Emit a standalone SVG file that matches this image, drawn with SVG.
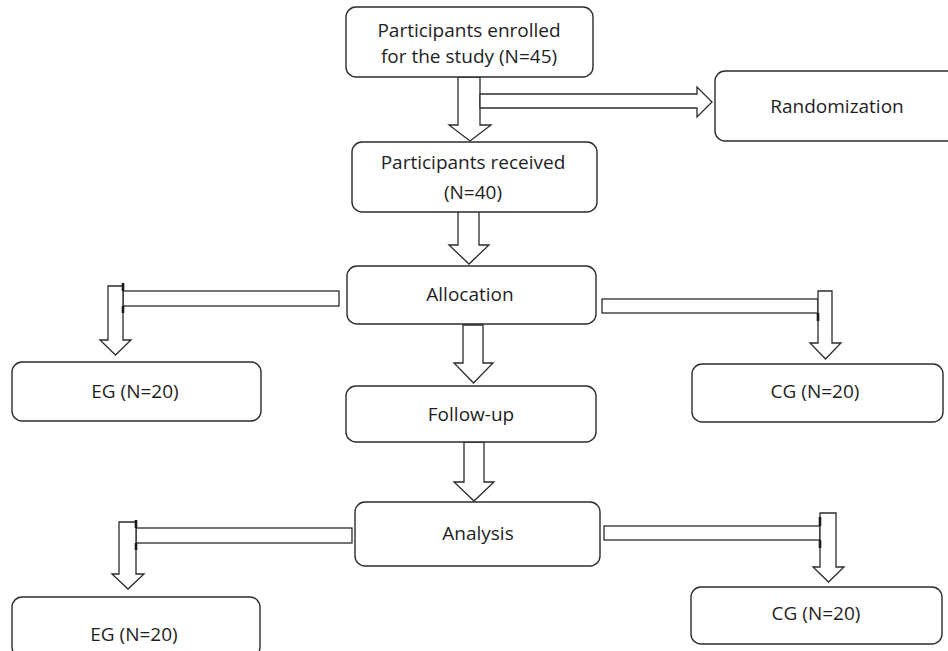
<svg xmlns="http://www.w3.org/2000/svg" width="948" height="651" viewBox="0 0 948 651">
  <style>
    .box { fill: #ffffff; stroke: #2b2b2b; stroke-width: 1.4; }
    .arr { fill: #ffffff; stroke: #2b2b2b; stroke-width: 1.3; stroke-linejoin: miter; }
    .tick { stroke: #1a1a1a; stroke-width: 2.6; }
    .lbl { font-family: "Open Sans", "Noto Sans", "Liberation Sans", sans-serif; font-size: 19px; fill: #1e1e1e; text-anchor: middle; }
  </style>
  <rect x="0" y="0" width="948" height="651" fill="#ffffff"/>

  <g id="connectors">
    <!-- enrolled -> received -->
    <polygon class="arr" points="458,77 480,77 480,125 491,125 470,141 449,125 458,125"/>
    <!-- enrolled -> randomization -->
    <polygon class="arr" points="480,94 697,94 697,87 712,102 697,117 697,108 480,108"/>
    <!-- received -> allocation -->
    <polygon class="arr" points="458,211 479,211 479,245 489,245 469,264 449,245 458,245"/>
    <!-- allocation -> follow-up -->
    <polygon class="arr" points="463,325 483,325 483,363 493,363 473.5,383 454,363 463,363"/>
    <!-- follow-up -> analysis -->
    <polygon class="arr" points="464,442 484,442 484,482 494,482 474,501 454,482 464,482"/>

    <!-- allocation -> EG (left) -->
    <rect class="arr" x="123" y="291" width="216" height="15"/>
    <polygon class="arr" points="108,286 123,286 123,340 131,340 115.5,355 100,340 108,340"/>
    <line class="tick" x1="123" y1="283" x2="123" y2="291"/>
    <line class="tick" x1="123" y1="306" x2="123" y2="313"/>

    <!-- allocation -> CG (right) -->
    <rect class="arr" x="602" y="299" width="216" height="14"/>
    <polygon class="arr" points="818,291 832,291 832,343 841,343 825.5,359 810,343 818,343"/>
    <line class="tick" x1="818" y1="313" x2="818" y2="321"/>

    <!-- analysis -> EG (left) -->
    <rect class="arr" x="136" y="528" width="216" height="15"/>
    <polygon class="arr" points="119,522 136,522 136,574 144,574 128,589 112,574 119,574"/>
    <line class="tick" x1="136" y1="520" x2="136" y2="528"/>
    <line class="tick" x1="136" y1="543" x2="136" y2="550"/>

    <!-- analysis -> CG (right) -->
    <rect class="arr" x="604" y="526" width="216" height="14"/>
    <polygon class="arr" points="820,513 836,513 836,567 844,567 828.5,582 813,567 820,567"/>
    <line class="tick" x1="820" y1="517" x2="820" y2="526"/>
    <line class="tick" x1="820" y1="540" x2="820" y2="548"/>
  </g>

  <g id="enrolled">
    <rect class="box" x="346" y="7" width="247" height="70" rx="10"/>
    <text class="lbl" x="469" y="37">Participants enrolled</text>
    <text class="lbl" x="469" y="63">for the study (N=45)</text>
  </g>

  <g id="randomization">
    <rect class="box" x="715" y="71" width="250" height="70" rx="10"/>
    <text class="lbl" x="837" y="113">Randomization</text>
  </g>

  <g id="received">
    <rect class="box" x="352" y="142" width="245" height="70" rx="10"/>
    <text class="lbl" x="473" y="169">Participants received</text>
    <text class="lbl" x="473" y="199">(N=40)</text>
  </g>

  <g id="allocation">
    <rect class="box" x="347" y="266" width="249" height="58" rx="10"/>
    <text class="lbl" x="470" y="301">Allocation</text>
  </g>

  <g id="eg1">
    <rect class="box" x="12" y="362" width="249" height="59" rx="10"/>
    <text class="lbl" x="135" y="398">EG (N=20)</text>
  </g>

  <g id="cg1">
    <rect class="box" x="692" y="364" width="251" height="58" rx="10"/>
    <text class="lbl" x="815" y="398">CG (N=20)</text>
  </g>

  <g id="followup">
    <rect class="box" x="346" y="386" width="250" height="56" rx="10"/>
    <text class="lbl" x="471" y="421">Follow-up</text>
  </g>

  <g id="analysis">
    <rect class="box" x="355" y="502" width="245" height="64" rx="10"/>
    <text class="lbl" x="478" y="540">Analysis</text>
  </g>

  <g id="eg2">
    <rect class="box" x="12" y="597" width="248" height="60" rx="10"/>
    <text class="lbl" x="134" y="641">EG (N=20)</text>
  </g>

  <g id="cg2">
    <rect class="box" x="691" y="587" width="251" height="57" rx="10"/>
    <text class="lbl" x="816" y="620">CG (N=20)</text>
  </g>
</svg>
